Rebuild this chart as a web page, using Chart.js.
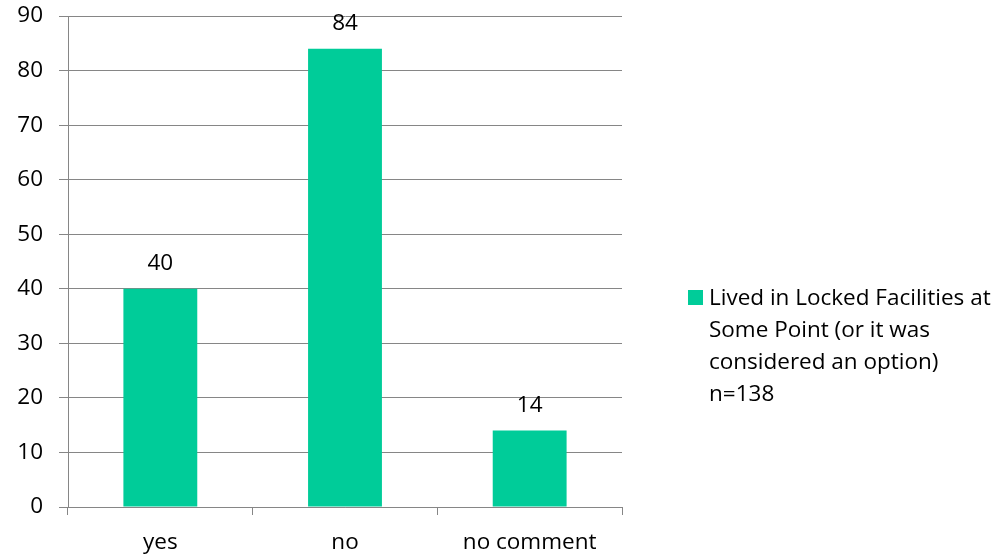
<!DOCTYPE html>
<html>
<head>
<meta charset="utf-8">
<script src="https://cdn.jsdelivr.net/npm/chart.js@4/dist/chart.umd.min.js"></script>
<style>
  html, body { margin: 0; padding: 0; background: #fff; }
  #wrap { width: 1004px; height: 554px; position: relative; }
</style>
</head>
<body>
<div id="wrap"><canvas id="chart"></canvas></div>
<script>
  // data
  var categories = ['yes', 'no', 'no comment'];
  var values = [40, 84, 14];
  var yTicks = [0, 10, 20, 30, 40, 50, 60, 70, 80, 90];
  var legendLines = ['Lived in Locked Facilities at', 'Some Point (or it was', 'considered an option)', 'n=138'];

  var FONT = '"Open Sans", "DejaVu Sans", sans-serif';
  var BAR = '#00CC99';
  var GRID = '#868686';

  // value labels above each bar
  var barLabels = {
    id: 'barLabels',
    afterDatasetsDraw: function (chart) {
      var ctx = chart.ctx;
      var meta = chart.getDatasetMeta(0);
      ctx.save();
      ctx.font = '22.5px ' + FONT;
      ctx.fillStyle = '#000';
      ctx.textAlign = 'center';
      ctx.textBaseline = 'alphabetic';
      meta.data.forEach(function (bar, i) {
        ctx.fillText(String(values[i]), bar.x, bar.y - 19);
      });
      ctx.restore();
    }
  };

  // legend on the right, wrapped over several lines
  var sideLegend = {
    id: 'sideLegend',
    afterDraw: function (chart) {
      var ctx = chart.ctx;
      var x = chart.chartArea.right + 66;
      var y = 290;
      ctx.save();
      ctx.fillStyle = BAR;
      ctx.fillRect(x, y, 15, 15);
      ctx.font = '22.5px ' + FONT;
      ctx.fillStyle = '#000';
      ctx.textAlign = 'left';
      ctx.textBaseline = 'alphabetic';
      legendLines.forEach(function (line, i) {
        ctx.fillText(line, x + 21, y + 15 + i * 32);
      });
      ctx.restore();
    }
  };

  new Chart(document.getElementById('chart'), {
    type: 'bar',
    data: {
      labels: categories,
      datasets: [{
        label: legendLines.join(' '),
        data: values,
        backgroundColor: BAR,
        borderWidth: 0,
        barPercentage: 0.4,
        categoryPercentage: 1.0
      }]
    },
    options: {
      responsive: true,
      maintainAspectRatio: false,
      animation: false,
      layout: { padding: { top: 16, right: 382, bottom: 0, left: 0 } },
      plugins: {
        legend: { display: false },
        tooltip: { enabled: false }
      },
      scales: {
        x: {
          grid: { display: true, drawOnChartArea: false, drawTicks: true, tickLength: 8, color: GRID, lineWidth: 1, offset: true },
          border: { display: true, color: GRID, width: 1 },
          ticks: { color: '#000', font: { family: FONT, size: 22.5 }, padding: 14, maxRotation: 0 },
          afterFit: function (scale) {
            scale.height = 47;
            scale.paddingLeft = 0;
            scale.paddingRight = 0;
          }
        },
        y: {
          min: 0,
          max: 90,
          afterBuildTicks: function (scale) {
            scale.ticks = yTicks.map(function (v) { return { value: v }; });
          },
          grid: { color: GRID, lineWidth: 1, drawTicks: true, tickLength: 9 },
          border: { display: true, color: GRID, width: 1 },
          ticks: { color: '#000', font: { family: FONT, size: 22.5 }, padding: 16 },
          afterFit: function (scale) {
            scale.width = 68;
            scale.paddingTop = 0;
            scale.paddingBottom = 0;
          }
        }
      }
    },
    plugins: [barLabels, sideLegend]
  });
</script>
</body>
</html>
